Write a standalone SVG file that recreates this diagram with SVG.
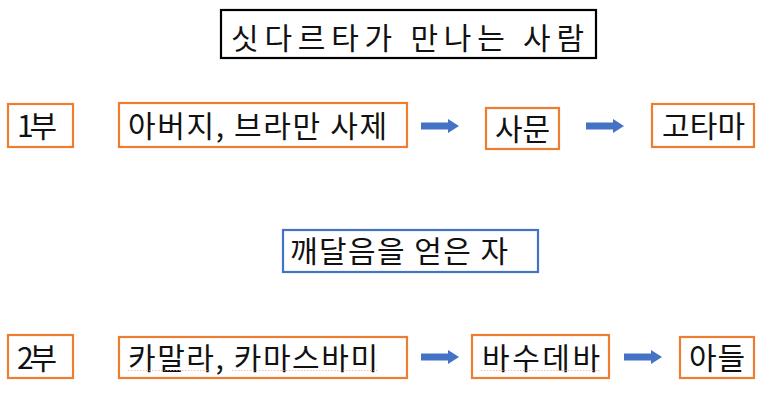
<svg xmlns="http://www.w3.org/2000/svg" width="773" height="409" viewBox="0 0 773 409">
<style>
.box{fill:#fff;stroke:#ED7D31;stroke-width:2.2}
.bbox{fill:#fff;stroke:#4472C4;stroke-width:2.2}
.tbox{fill:#fff;stroke:#000;stroke-width:2.2}
text{font-family:"Noto Sans CJK KR","Noto Sans",sans-serif;fill:#111;font-size:30px}
.arr{fill:#4472C4}
.sq{stroke:#F0A0A0;stroke-width:1;fill:none;stroke-dasharray:1.5 1.5;opacity:0.7}
</style>
<defs>
<polygon id="ar" points="0,-3.5 27,-3.5 27,-7 38,0 27,7 27,3.5 0,3.5"/>
</defs>
<rect width="773" height="409" fill="#fff"/>
<g id="title"><rect class="tbox" x="221" y="10" width="375" height="48"/><text x="231" y="49" font-size="39" textLength="353" lengthAdjust="spacing">싯다르타가 만나는 사람</text></g>
<g id="p1"><rect class="box" x="8" y="104" width="65" height="43"/><text x="17" y="137" textLength="40" lengthAdjust="spacing">1부</text></g>
<g id="n1"><rect class="box" x="119" y="103" width="288" height="44"/><text x="128" y="137" textLength="259" lengthAdjust="spacing">아버지, 브라만 사제</text></g>
<g id="n2"><rect class="box" x="486" y="108" width="73" height="41"/><text x="495" y="140" textLength="55" lengthAdjust="spacing">사문</text></g>
<g id="n3"><rect class="box" x="652" y="104" width="102" height="43"/><text x="662" y="137" textLength="83" lengthAdjust="spacing">고타마</text></g>
<g id="mid"><rect class="bbox" x="283" y="230" width="255" height="42"/><text x="290" y="262" font-size="28" textLength="218" lengthAdjust="spacing">깨달음을 얻은 자</text></g>
<g id="p2"><rect class="box" x="8" y="335" width="65" height="43"/><text x="17" y="369" textLength="40" lengthAdjust="spacing">2부</text></g>
<g id="n4"><rect class="box" x="119" y="337" width="288" height="41"/><text x="128" y="369" textLength="250" lengthAdjust="spacing">카말라, 카마스바미</text><path class="sq" d="M128,370.5 H210 M232,370.5 H378"/></g>
<g id="n5"><rect class="box" x="472" y="335" width="137" height="43"/><text x="482" y="369" textLength="118" lengthAdjust="spacing">바수데바</text><path class="sq" d="M481,370.5 H600"/></g>
<g id="n6"><rect class="box" x="680" y="337" width="74" height="41"/><text x="689" y="369" textLength="56" lengthAdjust="spacing">아들</text></g>
<g id="connectors" class="arr">
<use href="#ar" x="421" y="126"/>
<use href="#ar" x="586" y="126"/>
<use href="#ar" x="421" y="357"/>
<use href="#ar" x="624" y="357"/>
</g>
</svg>
